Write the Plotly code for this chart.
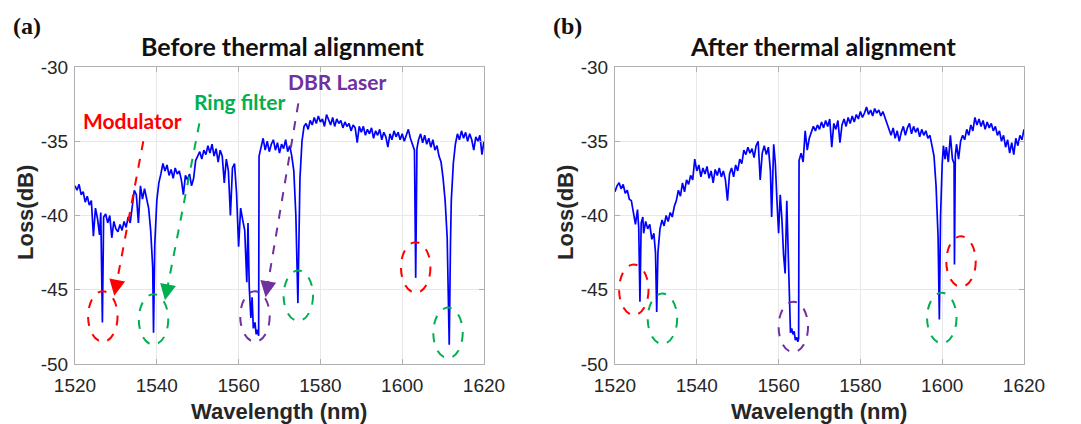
import plotly.graph_objects as go

# ---------------- data: panel (a) before thermal alignment ----------------
wl_a = [1520.0, 1520.5, 1521.0, 1521.5, 1522.0, 1522.5, 1523.0, 1523.5, 1524.0, 1524.5,
        1525.0, 1525.5, 1526.0, 1526.3, 1526.7, 1527.0, 1527.5, 1528.0, 1528.5, 1529.0,
        1529.5, 1530.0, 1530.5, 1531.0, 1531.5, 1532.0, 1532.5, 1533.0, 1533.5, 1534.0,
        1534.5, 1535.0, 1535.5, 1536.0, 1536.5, 1537.0, 1537.5, 1538.0, 1538.5, 1539.0,
        1539.2, 1539.5, 1540.0, 1540.5, 1541.0, 1541.5, 1542.0, 1542.5, 1543.0, 1543.5,
        1544.0, 1544.5, 1545.0, 1545.5, 1546.0, 1546.5, 1547.0, 1547.5, 1548.0, 1548.5,
        1549.0, 1549.5, 1550.0, 1550.5, 1551.0, 1551.5, 1552.0, 1552.5, 1553.0, 1553.5,
        1554.0, 1554.5, 1555.0, 1555.5, 1556.0, 1556.5, 1557.0, 1557.5, 1558.0, 1558.5,
        1559.0, 1559.5, 1560.0, 1560.5, 1561.0, 1561.5, 1562.0, 1562.3, 1562.6, 1563.0,
        1563.3, 1563.6, 1564.0, 1564.3, 1564.6, 1564.9, 1565.0, 1565.5, 1566.0, 1566.5,
        1567.0, 1567.5, 1568.0, 1568.5, 1569.0, 1569.5, 1570.0, 1570.5, 1571.0, 1571.5,
        1572.0, 1572.5, 1573.0, 1573.5, 1574.0, 1574.5, 1574.8, 1575.0, 1575.5, 1576.0,
        1576.5, 1577.0, 1577.5, 1578.0, 1578.5, 1579.0, 1579.5, 1580.0, 1580.5, 1581.0,
        1581.5, 1582.0, 1582.5, 1583.0, 1583.5, 1584.0, 1584.5, 1585.0, 1585.5, 1586.0,
        1586.5, 1587.0, 1587.5, 1588.0, 1588.5, 1589.0, 1589.5, 1590.0, 1590.5, 1591.0,
        1591.5, 1592.0, 1592.5, 1593.0, 1593.5, 1594.0, 1594.5, 1595.0, 1595.5, 1596.0,
        1596.5, 1597.0, 1597.5, 1598.0, 1598.5, 1599.0, 1599.5, 1600.0, 1600.5, 1601.0,
        1601.5, 1602.0, 1602.5, 1603.0, 1603.3, 1603.6, 1604.0, 1604.5, 1605.0, 1605.5,
        1606.0, 1606.5, 1607.0, 1607.5, 1608.0, 1608.5, 1609.0, 1609.5, 1610.0, 1610.5,
        1611.0, 1611.5, 1611.8, 1612.0, 1612.5, 1613.0, 1613.5, 1614.0, 1614.5, 1615.0,
        1615.5, 1616.0, 1616.5, 1617.0, 1617.5, 1618.0, 1618.5, 1619.0, 1619.5, 1620.0]
loss_a = [-38.0, -38.3, -37.9, -38.6, -38.4, -39.1, -38.7, -39.3, -39.0, -41.4,
          -39.5, -40.2, -41.3, -39.8, -47.2, -40.1, -39.9, -40.5, -40.0, -41.5,
          -40.4, -40.9, -41.1, -40.6, -41.0, -40.4, -40.8, -40.1, -40.5, -39.2,
          -38.3, -38.6, -40.5, -38.0, -38.9, -38.2, -38.8, -39.5, -41.0, -43.5,
          -47.9, -42.0, -39.0, -37.8, -37.2, -36.5, -37.0, -36.6, -37.3, -36.9,
          -37.5, -36.8, -37.2, -37.0, -37.6, -38.6, -37.3, -37.6, -37.2, -38.0,
          -37.5, -36.3, -36.0, -35.7, -36.2, -35.6, -35.9, -35.3, -35.8, -35.2,
          -36.0, -35.5, -36.4, -35.6, -36.0, -37.8, -36.2, -37.0, -40.0, -36.8,
          -36.5, -38.5, -42.1, -39.5, -40.3, -41.0, -44.5, -40.5, -44.8, -46.9,
          -45.5, -47.6, -47.2, -48.0, -47.7, -48.1, -36.0, -35.4, -34.8, -35.6,
          -35.0, -35.7, -35.2, -34.9, -35.6, -35.1, -35.8, -35.2, -35.5, -34.9,
          -35.7, -35.3, -36.0, -37.0, -40.0, -45.9, -41.0, -37.5, -35.0, -34.0,
          -33.8, -34.2, -33.6, -33.9, -33.4, -33.8, -33.3, -33.7, -33.5, -34.0,
          -33.2, -33.6, -33.9, -33.4, -34.0, -33.5, -33.8, -33.6, -34.1, -33.7,
          -34.0, -33.8, -34.3, -33.9, -34.1, -35.1, -34.0, -34.4, -34.0, -34.6,
          -34.2, -34.5, -34.1, -34.8, -34.3, -34.6, -34.2, -34.9, -34.4, -34.7,
          -35.4, -34.5, -34.9, -34.3, -34.7, -34.4, -34.9, -34.5, -35.0, -34.6,
          -34.2, -34.8, -35.2, -35.6, -44.2, -35.5, -34.9, -34.5, -35.1, -34.6,
          -35.2, -34.8, -35.4, -34.9, -35.6, -35.3, -36.0, -36.4, -37.5, -39.0,
          -41.5, -48.7, -42.0, -39.0, -36.5, -35.2, -34.5, -34.9, -34.3, -34.8,
          -34.4, -35.0, -34.5, -34.9, -35.6, -34.7, -35.0, -34.6, -35.9, -35.0]

# ---------------- data: panel (b) after thermal alignment ----------------
wl_b = [1520.0, 1520.5, 1521.0, 1521.5, 1522.0, 1522.5, 1523.0, 1523.5, 1524.0, 1524.5,
        1525.0, 1525.5, 1525.8, 1526.1, 1526.4, 1526.8, 1527.0, 1527.5, 1528.0, 1528.5,
        1529.0, 1529.5, 1529.9, 1530.2, 1530.5, 1531.0, 1531.5, 1532.0, 1532.5, 1533.0,
        1533.5, 1534.0, 1534.5, 1535.0, 1535.5, 1536.0, 1536.5, 1537.0, 1537.5, 1538.0,
        1538.5, 1539.0, 1539.5, 1540.0, 1540.5, 1541.0, 1541.5, 1542.0, 1542.5, 1543.0,
        1543.5, 1544.0, 1544.5, 1545.0, 1545.5, 1546.0, 1546.5, 1547.0, 1547.5, 1548.0,
        1548.5, 1549.0, 1549.5, 1550.0, 1550.5, 1551.0, 1551.5, 1552.0, 1552.5, 1553.0,
        1553.5, 1554.0, 1554.5, 1555.0, 1555.5, 1556.0, 1556.5, 1557.0, 1557.5, 1558.0,
        1558.3, 1558.8, 1559.2, 1559.6, 1560.0, 1560.4, 1560.8, 1561.2, 1561.6, 1562.0,
        1562.3, 1562.6, 1562.9, 1563.2, 1563.5, 1563.8, 1564.1, 1564.4, 1564.7, 1564.9,
        1565.0, 1565.5, 1566.0, 1566.5, 1567.0, 1567.5, 1568.0, 1568.5, 1569.0, 1569.5,
        1570.0, 1570.5, 1571.0, 1571.5, 1572.0, 1572.5, 1573.0, 1573.5, 1574.0, 1574.5,
        1575.0, 1575.5, 1576.0, 1576.5, 1577.0, 1577.5, 1578.0, 1578.5, 1579.0, 1579.5,
        1580.0, 1580.5, 1581.0, 1581.5, 1582.0, 1582.5, 1583.0, 1583.5, 1584.0, 1584.5,
        1585.0, 1585.5, 1586.0, 1586.5, 1587.0, 1587.5, 1588.0, 1588.5, 1589.0, 1589.5,
        1590.0, 1590.5, 1591.0, 1591.5, 1592.0, 1592.5, 1593.0, 1593.5, 1594.0, 1594.5,
        1595.0, 1595.5, 1596.0, 1596.5, 1597.0, 1597.5, 1598.0, 1598.5, 1599.0, 1599.3,
        1599.6, 1600.0, 1600.3, 1600.7, 1601.0, 1601.5, 1602.0, 1602.5, 1602.9, 1603.0,
        1603.2, 1603.5, 1604.0, 1604.5, 1605.0, 1605.5, 1606.0, 1606.5, 1607.0, 1607.5,
        1608.0, 1608.5, 1609.0, 1609.5, 1610.0, 1610.5, 1611.0, 1611.5, 1612.0, 1612.5,
        1613.0, 1613.5, 1614.0, 1614.5, 1615.0, 1615.5, 1616.0, 1616.5, 1617.0, 1617.5,
        1618.0, 1618.5, 1619.0, 1619.5, 1620.0]
loss_b = [-38.4, -38.0, -37.8, -38.2, -37.9, -38.5, -38.3, -38.9, -39.0, -39.8,
          -40.6, -39.6, -40.8, -45.8, -40.5, -40.1, -41.2, -40.4, -40.9, -40.6,
          -41.6, -41.2, -42.5, -46.5, -42.5, -40.9, -40.3, -40.7, -40.0, -40.4,
          -39.8, -40.1, -39.4, -39.0, -38.3, -38.7, -37.8, -38.4, -37.6, -37.9,
          -37.3, -37.6, -36.2, -37.0, -36.6, -37.4, -36.8, -37.2, -36.7, -37.5,
          -37.0, -37.8, -36.9, -37.3, -36.8, -37.4, -37.0, -37.6, -39.0, -37.2,
          -36.8, -37.4, -36.6, -37.0, -36.2, -36.5, -35.6, -35.9, -35.4, -35.8,
          -35.5, -36.1, -35.3, -35.0, -37.6, -35.8, -35.3, -35.9, -35.4, -37.0,
          -40.1, -35.2, -36.5, -39.0, -41.2, -38.6, -40.2, -42.6, -43.9, -39.0,
          -42.5, -46.0, -47.9, -47.6, -48.0, -47.8, -48.4, -48.2, -48.5, -48.3,
          -36.3, -35.8, -36.4, -34.3, -35.6, -34.8, -34.4, -34.0, -34.3, -33.9,
          -34.2, -33.7, -34.1, -33.6, -34.0, -33.5, -35.4, -33.8, -34.2, -33.6,
          -35.1, -33.9, -33.5, -34.0, -33.4, -33.8, -33.3, -33.7, -33.2, -33.5,
          -33.0, -33.4, -33.1, -32.7, -33.2, -32.9, -33.3, -32.8, -33.1, -32.9,
          -33.3, -33.0, -33.4, -33.8, -34.2, -34.6, -34.1, -34.8, -34.3, -35.0,
          -34.4, -34.0, -34.6, -34.1, -33.8, -34.5, -34.0, -34.4, -34.1, -34.7,
          -34.2, -34.6, -34.3, -34.8, -34.6, -35.3, -36.0, -38.0, -41.5, -47.0,
          -40.0, -36.5, -35.3, -36.2, -35.4, -36.4, -34.6, -36.2, -36.5, -43.3,
          -36.0, -35.2, -36.2, -35.0, -34.6, -34.9, -34.2, -34.6, -33.9, -34.3,
          -33.4, -33.9, -33.5, -34.0, -33.6, -34.2, -33.7, -34.1, -33.8, -34.3,
          -34.0, -34.6, -34.3, -35.0, -34.6, -35.4, -34.9, -35.8, -35.1, -35.9,
          -34.8, -35.3, -34.6, -34.9, -34.2]

# ---------------- annotations: circled dips ----------------
# (center wavelength, center loss, colour)
circles_a = [(1526.8, -46.8, "red"), (1539.2, -47.0, "green"), (1564.0, -46.8, "purple"),
             (1574.6, -45.4, "green"), (1603.3, -43.5, "red"), (1611.2, -47.9, "green")]
circles_b = [(1524.6, -45.0, "red"), (1531.6, -46.95, "green"), (1563.6, -47.5, "purple"),
             (1599.9, -46.9, "green"), (1604.6, -43.1, "red")]
# arrows in panel (a): (start wl, start loss, tip wl, tip loss, colour)
arrows_a = [(1536.7, -35.0, 1529.6, -45.4, "red"),
            (1550.4, -33.8, 1542.0, -45.7, "green"),
            (1574.6, -32.45, 1566.6, -45.5, "purple")]
labels_a = [("Modulator", 1534.1, -33.6, "red"),
            ("Ring filter", 1560.2, -32.3, "green"),
            ("DBR Laser", 1584.0, -31.0, "purple")]

COL = {"red": "#FF0000", "green": "#00B050", "purple": "#7030A0"}
x_ticks = [1520, 1540, 1560, 1580, 1600, 1620]
y_ticks = [-50, -45, -40, -35, -30]

fig = go.Figure()
fig.add_trace(go.Scatter(x=wl_a, y=loss_a, mode="lines",
                         line=dict(color="#0000FF", width=1.7), xaxis="x", yaxis="y",
                         showlegend=False))
fig.add_trace(go.Scatter(x=wl_b, y=loss_b, mode="lines",
                         line=dict(color="#0000FF", width=1.7), xaxis="x2", yaxis="y2",
                         showlegend=False))

HW, HH = 3.6, 1.7  # ellipse half width (nm), half height (dB)
shapes = []
for circles, xr, yr in [(circles_a, "x", "y"), (circles_b, "x2", "y2")]:
    for cx, cy, c in circles:
        shapes.append(dict(type="circle", xref=xr, yref=yr,
                           x0=cx - HW, x1=cx + HW, y0=cy - HH, y1=cy + HH,
                           line=dict(color=COL[c], width=2, dash="dash")))

annotations = []
for sx, sy, tx, ty, c in arrows_a:
    bx = tx + (sx - tx) * 0.06
    by = ty + (sy - ty) * 0.06
    shapes.append(dict(type="line", xref="x", yref="y", x0=sx, y0=sy, x1=bx, y1=by,
                       line=dict(color=COL[c], width=2, dash="dash")))
    annotations.append(dict(x=tx, y=ty, ax=bx, ay=by, xref="x", yref="y",
                            axref="x", ayref="y", text="", showarrow=True,
                            arrowhead=2, arrowsize=1.6, arrowwidth=2,
                            arrowcolor=COL[c]))
for t, lx, ly, c in labels_a:
    annotations.append(dict(x=lx, y=ly, xref="x", yref="y", text="<b>%s</b>" % t,
                            showarrow=False, xanchor="center", yanchor="middle",
                            font=dict(family="Lato", size=21, color=COL[c])))

# the page body has an 8 px margin, so the figure is 8 px smaller and coordinates
# (given in window pixels) are shifted by that amount
OFF = 8
W, H = 1081 - OFF, 424 - OFF
def px(v):
    return (v - OFF) / W
def py(v):
    return 1 - (v - OFF) / H

title_font = dict(family="Lato", size=25, color="#111111")
lab_font = dict(family="Liberation Sans", size=22, color="#262626")
for off, panel, title in [(0, "(a)", "Before thermal alignment"),
                          (540, "(b)", "After thermal alignment")]:
    annotations.append(dict(x=px(27 + off), y=py(26), xref="paper", yref="paper",
                            xanchor="center", yanchor="middle",
                            text="<b>%s</b>" % panel, showarrow=False,
                            font=dict(family="Liberation Serif", size=24, color="#111111")))
    annotations.append(dict(x=px(283 + off), y=py(46), xref="paper", yref="paper",
                            xanchor="center", yanchor="middle",
                            text="<b>%s</b>" % title, showarrow=False, font=title_font))
    annotations.append(dict(x=px(25 + off), y=py(213), xref="paper", yref="paper",
                            xanchor="center", yanchor="middle",
                            text="<b>Loss(dB)</b>", showarrow=False, textangle=-90,
                            font=lab_font))
    annotations.append(dict(x=px(279 + off), y=py(411), xref="paper", yref="paper",
                            xanchor="center", yanchor="middle",
                            text="<b>Wavelength (nm)</b>", showarrow=False, font=lab_font))

axis_common = dict(showgrid=True, gridcolor="#e8e8e8", gridwidth=1, automargin=False,
                   showline=True, linecolor="#b0b0b0", linewidth=1, mirror="ticks",
                   ticks="inside", ticklen=5, tickcolor="#b0b0b0", zeroline=False,
                   tickfont=dict(family="Liberation Sans", size=19, color="#262626"))

xa = dict(range=[1520, 1620], tickvals=x_ticks, ticktext=[str(v) for v in x_ticks],
          ticklabelstandoff=4, **axis_common)
ya = dict(range=[-50, -30], tickvals=y_ticks, ticktext=[str(v) for v in y_ticks],
          ticklabelstandoff=2, **axis_common)

fig.update_layout(
    template="none",
    width=W, height=H, margin=dict(l=0, r=0, t=0, b=0, pad=0),
    paper_bgcolor="white", plot_bgcolor="white", showlegend=False,
    xaxis=dict(domain=[px(75), px(484)], anchor="y", **xa),
    yaxis=dict(domain=[py(364), py(67)], anchor="x", **ya),
    xaxis2=dict(domain=[px(615), px(1024)], anchor="y2", **xa),
    yaxis2=dict(domain=[py(364), py(67)], anchor="x2", **ya),
    shapes=shapes, annotations=annotations,
    font=dict(family="Liberation Sans"),
)

fig.write_html("out.html")
